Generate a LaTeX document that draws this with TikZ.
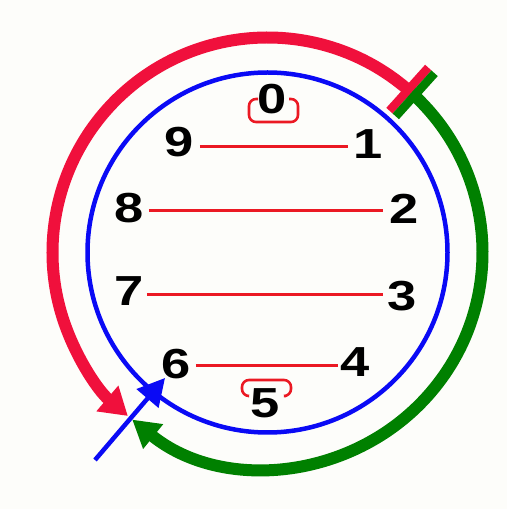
\documentclass[tikz,border=0pt]{standalone}
\usepackage{fontspec}
\newfontfamily\digitfont{Liberation Sans}[FakeStretch=1.25]
\usetikzlibrary{arrows.meta,calc}
\definecolor{bg}{RGB}{253,253,250}
\definecolor{arcred}{RGB}{240,16,60}
\definecolor{linered}{RGB}{235,25,35}
\definecolor{arcgreen}{RGB}{0,128,0}
\definecolor{circblue}{RGB}{10,10,245}
\begin{document}
\begin{tikzpicture}[x=1pt,y=1pt,
 digit/.style={font=\digitfont\bfseries\fontsize{42}{42}\selectfont, inner sep=0pt, text=black},
 ln/.style={draw=linered, line width=3pt},
 bracket/.style={draw=linered, line width=2.6pt, rounded corners=7pt},
 bigarc/.style={line width=12pt},
 bar/.style={line width=8.5pt},
]
\fill[bg] (0,0) rectangle (507,509);
\useasboundingbox (0,0) rectangle (507,509);
\coordinate (c) at (267.5,256.5);
% outer arcs
\draw[arcred, bigarc, -{Triangle[length=27pt,width=32pt]}] ($(c)+(48:215pt)$) arc[start angle=48, end angle=229.5, radius=215pt];
\draw[arcgreen, bigarc, -{Triangle[length=27pt,width=30pt]}] ($(c)+(48:215pt)$) arc[start angle=48, end angle=-129, radius=215pt];
% mark
\draw[arcred, bar] ($(c)+(48:187pt)+(138:4.25pt)$) -- ($(c)+(48:245pt)+(138:4.25pt)$);
\draw[arcgreen, bar] ($(c)+(48:187pt)+(318:4.25pt)$) -- ($(c)+(48:245pt)+(318:4.25pt)$);
% blue circle
\draw[circblue, line width=4.5pt] (c) circle[radius=180pt];
% blue arrow
\coordinate (b0) at (95,49);
\coordinate (b1) at (165,131);
\draw[circblue, line width=4.5pt, -{Triangle[length=27pt,width=28pt]}] (b0) -- (b1);
% brackets
\draw[bracket] (258,410) -- (249,410) -- (249,387) -- (298,387) -- (298,410) -- (289,410);
\draw[bracket] (248,113) -- (242,113) -- (242,129) -- (291,129) -- (291,113) -- (286,113);
% digits
\node[digit] (n0) at (272,410) {0};
\node[digit] (n1) at (368,365) {1};
\node[digit] (n2) at (404,300) {2};
\node[digit] (n3) at (402,213) {3};
\node[digit] (n4) at (355,147) {4};
\node[digit] (n5) at (265,106) {5};
\node[digit] (n6) at (176,145) {6};
\node[digit] (n7) at (129,218) {7};
\node[digit] (n8) at (129,301) {8};
\node[digit] (n9) at (179,367) {9};
% chords
\coordinate (l1) at (0,362);
\coordinate (l2) at (0,298);
\coordinate (l3) at (0,214);
\coordinate (l4) at (0,143.5);
\draw[ln, shorten <=6pt, shorten >=5pt] (n9.east |- l1) -- (n1.west |- l1);
\draw[ln, shorten <=5pt, shorten >=6pt] (n8.east |- l2) -- (n2.west |- l2);
\draw[ln, shorten <=3pt, shorten >=4pt] (n7.east |- l3) -- (n3.west |- l3);
\draw[ln, shorten <=5pt, shorten >=2pt] (n6.east |- l4) -- (n4.west |- l4);
\end{tikzpicture}
\end{document}
